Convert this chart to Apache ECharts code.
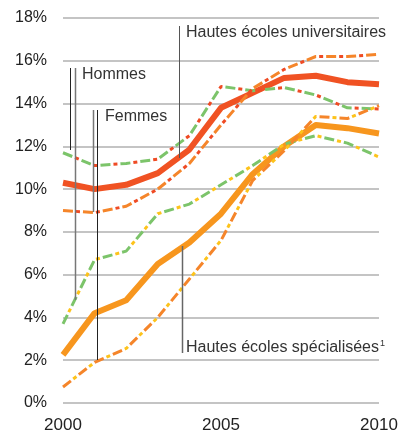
<!DOCTYPE html>
<html>
<head>
<meta charset="utf-8">
<script src="https://cdn.jsdelivr.net/npm/echarts@6/dist/echarts.min.js"></script>
<style>
  html, body { margin: 0; padding: 0; background: #fff; }
  #chart { width: 402px; height: 436px; }
</style>
</head>
<body>
<div id="chart"></div>
<script>
var years = [2000, 2001, 2002, 2003, 2004, 2005, 2006, 2007, 2008, 2009, 2010];

// Hautes écoles universitaires
var uniTotal  = [10.3, 10.0, 10.2, 10.75, 11.85, 13.8, 14.5, 15.2, 15.3, 15.0, 14.9];
var uniMen    = [11.7, 11.1, 11.2, 11.4, 12.5, 14.8, 14.6, 14.75, 14.4, 13.8, 13.75];
var uniWomen  = [9.0, 8.9, 9.2, 10.0, 11.2, 13.0, 14.7, 15.6, 16.2, 16.2, 16.3];

// Hautes écoles spécialisées
var hesTotal  = [2.25, 4.2, 4.8, 6.5, 7.5, 8.85, 10.7, 12.0, 13.0, 12.85, 12.6];
var hesMen    = [3.7, 6.7, 7.1, 8.85, 9.3, 10.2, 11.1, 12.1, 12.5, 12.15, 11.5];
var hesWomen  = [0.75, 1.9, 2.55, 4.0, 5.8, 7.6, 10.4, 11.8, 13.4, 13.3, 13.9];

var yTicks = [0, 2, 4, 6, 8, 10, 12, 14, 16, 18];
var xTicks = [2000, 2005, 2010];

var FONT = '"Liberation Sans", Arial, sans-serif';
var RED = '#ef4b24', GREEN = '#7cc46a', ORANGE = '#f5852a', YELLOW = '#fdc31b';

function pairs(vals) {
    return years.map(function (y, i) { return [y, vals[i]]; });
}

function solid(vals, color) {
    return {
        type: 'line', data: pairs(vals), symbol: 'none', z: 2,
        lineStyle: { color: color, width: 6, join: 'round' }
    };
}

// two-colour dashes: long dash of one colour, short dash of the other in the gap
function twoTone(vals, longColor, shortColor) {
    return [{
        type: 'line', data: pairs(vals), symbol: 'none', z: 3,
        lineStyle: { color: longColor, width: 3, type: [10, 10], dashOffset: 0 }
    }, {
        type: 'line', data: pairs(vals), symbol: 'none', z: 3,
        lineStyle: { color: shortColor, width: 3, type: [4, 16], dashOffset: 7 }
    }];
}

var series = [
    solid(uniTotal, '#f05223'),
    solid(hesTotal, '#f7961e')
].concat(
    twoTone(uniMen, GREEN, RED),
    twoTone(uniWomen, ORANGE, RED),
    twoTone(hesMen, GREEN, YELLOW),
    twoTone(hesWomen, ORANGE, YELLOW)
);

function vline(x, y1, y2, color, w) {
    return { type: 'line', shape: { x1: x, y1: y1, x2: x, y2: y2 },
             style: { stroke: color, lineWidth: w }, z: 10 };
}
function label(x, y, text) {
    return { type: 'text', x: x, y: y, z: 10,
             style: { text: text, font: '16px ' + FONT, fill: '#333',
                      verticalAlign: 'middle' } };
}

var myChart = echarts.init(document.getElementById('chart'));
myChart.setOption({
    animation: false,
    grid: { left: 63, right: 23, top: 18, bottom: 33 },
    xAxis: {
        type: 'value', min: 2000, max: 2010, interval: 5,
        axisLine: { show: false }, axisTick: { show: false },
        splitLine: { show: false },
        axisLabel: { color: '#222', fontSize: 17, fontFamily: FONT, margin: 14,
                     formatter: function (v) { return xTicks.indexOf(v) >= 0 ? String(v) : ''; } }
    },
    yAxis: {
        type: 'value', min: yTicks[0], max: yTicks[yTicks.length - 1], interval: 2,
        axisLine: { show: false }, axisTick: { show: false },
        splitLine: { lineStyle: { color: '#b0b0b0', width: 1.5 } },
        axisLabel: { color: '#222', fontSize: 16, fontFamily: FONT, margin: 16,
                     formatter: function (v) { return v + '%'; } }
    },
    series: series,
    graphic: [
        vline(179.5, 26, 158, '#555', 1),
        label(186, 33, 'Hautes écoles universitaires'),
        vline(70.5, 68, 150, '#222', 1),
        vline(75.5, 68, 300, '#777', 1.5),
        label(82, 75, 'Hommes'),
        vline(93.5, 110, 212, '#777', 1.5),
        vline(97.5, 110, 360, '#222', 1),
        label(105, 117, 'Femmes'),
        vline(182.5, 246, 353, '#666', 1.5),
        { type: 'text', x: 186, y: 348, z: 10,
          style: { text: 'Hautes écoles spécialisées{sup|1}', font: '16px ' + FONT, fill: '#333',
                   verticalAlign: 'middle',
                   rich: { sup: { fontSize: 9, fontFamily: FONT, fill: '#333', padding: [0, 0, 9, 1] } } } }
    ]
});
</script>
</body>
</html>
